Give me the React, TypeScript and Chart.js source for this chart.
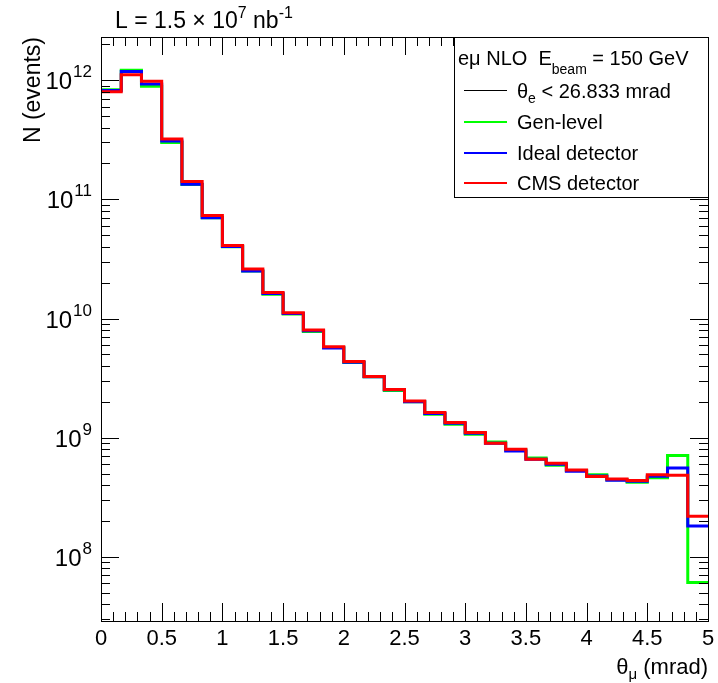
import React, { useEffect, useRef } from 'react';
import { Chart, registerables } from 'chart.js';

Chart.register(...registerables);

// ---- axis definition ----
const X_MIN = 0;
const X_MAX = 5;
const Y_MIN = 2.9e7;
const Y_MAX = 2.3e12;

// ---- histogram contents (30 bins of theta_mu, 0..5 mrad) ----
const genLevel = [
  8.3e11, 1.21e12, 8.9e11, 2.99e11, 1.33e11, 7.0e10, 4.0e10, 2.5e10, 1.6e10, 1.09e10,
  7.8e9, 5.7e9, 4.27e9, 3.25e9, 2.49e9, 2.0e9, 1.57e9, 1.3e9, 1.07e9, 9.2e8,
  7.9e8, 6.77e8, 5.88e8, 5.3e8, 4.88e8, 4.45e8, 4.24e8, 4.62e8, 7.1e8, 6.1e7,
];
const idealDetector = [
  8.2e11, 1.18e12, 9.26e11, 3.08e11, 1.34e11, 7.0e10, 4.02e10, 2.5e10, 1.62e10, 1.1e10,
  7.9e9, 5.66e9, 4.3e9, 3.25e9, 2.52e9, 2.0e9, 1.6e9, 1.32e9, 1.09e9, 9.0e8,
  7.74e8, 6.6e8, 6.0e8, 5.24e8, 4.77e8, 4.4e8, 4.32e8, 4.75e8, 5.58e8, 1.82e8,
];
const cmsDetector = [
  8.0e11, 1.11e12, 9.8e11, 3.2e11, 1.41e11, 7.3e10, 4.09e10, 2.6e10, 1.65e10, 1.12e10,
  8.0e9, 5.8e9, 4.35e9, 3.27e9, 2.54e9, 2.03e9, 1.63e9, 1.34e9, 1.107e9, 9.0e8,
  8.0e8, 6.6e8, 6.1e8, 5.37e8, 4.72e8, 4.51e8, 4.37e8, 4.88e8, 4.85e8, 2.19e8,
];

// ---- tick labels ----
const xTickValues = [0, 0.5, 1, 1.5, 2, 2.5, 3, 3.5, 4, 4.5, 5];
const xTickLabels = ['0', '0.5', '1', '1.5', '2', '2.5', '3', '3.5', '4', '4.5', '5'];
const yDecades = [8, 9, 10, 11, 12];

const FONT = '"Liberation Sans", Arial, Helvetica, sans-serif';

type Seg = { t: string; s: number; dy?: number; dx?: number };

function richWidth(ctx: CanvasRenderingContext2D, segs: Seg[]) {
  let w = 0;
  for (const g of segs) {
    ctx.font = `${g.s}px ${FONT}`;
    w += ctx.measureText(g.t).width + (g.dx || 0);
  }
  return w;
}

function drawRich(
  ctx: CanvasRenderingContext2D,
  segs: Seg[],
  x: number,
  y: number,
  align: 'left' | 'right' | 'center'
) {
  const w = richWidth(ctx, segs);
  let cx = align === 'left' ? x : align === 'right' ? x - w : x - w / 2;
  ctx.textAlign = 'left';
  ctx.textBaseline = 'alphabetic';
  for (const g of segs) {
    ctx.font = `${g.s}px ${FONT}`;
    cx += g.dx || 0;
    ctx.fillText(g.t, cx, y + (g.dy || 0));
    cx += ctx.measureText(g.t).width;
  }
}

function toHist(values: number[]) {
  const w = (X_MAX - X_MIN) / values.length;
  const pts = values.map((v, i) => ({ x: X_MIN + i * w, y: v }));
  pts.push({ x: X_MAX, y: values[values.length - 1] });
  return pts;
}

const rootStyle = {
  id: 'rootStyle',
  afterDraw(chart: any) {
    const ctx: CanvasRenderingContext2D = chart.ctx;
    const { left, right, top, bottom } = chart.chartArea;
    const xs = chart.scales.x;
    const ys = chart.scales.y;
    ctx.save();
    ctx.strokeStyle = '#000';
    ctx.fillStyle = '#000';
    ctx.lineWidth = 1;

    // frame
    ctx.strokeRect(left + 0.5, top + 0.5, right - left, bottom - top);

    // x ticks (bottom and top)
    ctx.beginPath();
    for (let i = 0; i <= 50; i++) {
      const v = X_MIN + (i * (X_MAX - X_MIN)) / 50;
      const px = Math.round(xs.getPixelForValue(v)) + 0.5;
      const len = i % 5 === 0 ? 18 : 9;
      ctx.moveTo(px, bottom);
      ctx.lineTo(px, bottom - len);
      ctx.moveTo(px, top);
      ctx.lineTo(px, top + len);
    }
    // y ticks (left and right)
    for (let d = 7; d <= 12; d++) {
      for (let m = 1; m <= 9; m++) {
        const v = m * Math.pow(10, d);
        if (v < Y_MIN || v > Y_MAX) continue;
        const py = Math.round(ys.getPixelForValue(v)) + 0.5;
        const len = m === 1 ? 18 : 9;
        ctx.moveTo(left, py);
        ctx.lineTo(left + len, py);
        ctx.moveTo(right, py);
        ctx.lineTo(right - len, py);
      }
    }
    ctx.stroke();

    // x tick labels
    xTickValues.forEach((v, i) => {
      const px = xs.getPixelForValue(v);
      drawRich(ctx, [{ t: xTickLabels[i], s: 22 }], px, bottom + 24, 'center');
    });
    // y tick labels
    yDecades.forEach((d) => {
      const py = ys.getPixelForValue(Math.pow(10, d));
      drawRich(
        ctx,
        [
          { t: '10', s: 24 },
          { t: String(d), s: 17, dy: -12, dx: 1 },
        ],
        left - 9,
        py + 9,
        'right'
      );
    });

    // x axis title
    drawRich(
      ctx,
      [
        { t: 'θ', s: 22 },
        { t: 'μ', s: 15, dy: 5 },
        { t: ' (mrad)', s: 22 },
      ],
      right,
      bottom + 53,
      'right'
    );

    // y axis title (rotated)
    ctx.save();
    ctx.translate(40, top);
    ctx.rotate(-Math.PI / 2);
    drawRich(ctx, [{ t: 'N (events)', s: 23 }], 0, 0, 'right');
    ctx.restore();

    // luminosity title
    drawRich(
      ctx,
      [
        { t: 'L = 1.5 × 10', s: 23 },
        { t: '7', s: 16, dy: -10 },
        { t: ' nb', s: 23 },
        { t: '-1', s: 16, dy: -10 },
      ],
      115,
      28,
      'left'
    );

    // legend box
    const lx0 = 454;
    const ly0 = top;
    const lx1 = right;
    const ly1 = 197;
    ctx.fillStyle = '#fff';
    ctx.fillRect(lx0, ly0, lx1 - lx0, ly1 - ly0);
    ctx.strokeStyle = '#000';
    ctx.lineWidth = 1;
    ctx.strokeRect(lx0 + 0.5, ly0 + 0.5, lx1 - lx0, ly1 - ly0);
    ctx.fillStyle = '#000';

    drawRich(
      ctx,
      [
        { t: 'eμ NLO  E', s: 20 },
        { t: 'beam', s: 14, dy: 9 },
        { t: ' = 150 GeV', s: 20 },
      ],
      458,
      65,
      'left'
    );

    const rows: { color: string; width: number; segs: Seg[]; y: number }[] = [
      {
        color: '#000',
        width: 1,
        y: 90.5,
        segs: [
          { t: 'θ', s: 20 },
          { t: 'e', s: 14, dy: 5 },
          { t: ' < 26.833 mrad', s: 20 },
        ],
      },
      { color: '#00ff00', width: 2, y: 122, segs: [{ t: 'Gen-level', s: 20 }] },
      { color: '#0000ff', width: 2, y: 153, segs: [{ t: 'Ideal detector', s: 20 }] },
      { color: '#ff0000', width: 2, y: 183, segs: [{ t: 'CMS detector', s: 20 }] },
    ];
    rows.forEach((r) => {
      ctx.strokeStyle = r.color;
      ctx.lineWidth = r.width;
      ctx.beginPath();
      ctx.moveTo(464, r.y);
      ctx.lineTo(507, r.y);
      ctx.stroke();
      ctx.fillStyle = '#000';
      drawRich(ctx, r.segs, 517, Math.round(r.y) + 7, 'left');
    });

    ctx.restore();
  },
};

export default function App() {
  const canvasRef = useRef<HTMLCanvasElement | null>(null);

  useEffect(() => {
    const canvas = canvasRef.current;
    if (!canvas) return;
    const chart = new Chart(canvas, {
      type: 'line',
      data: {
        datasets: [
          {
            label: 'CMS detector',
            data: toHist(cmsDetector),
            borderColor: '#ff0000',
            borderWidth: 3,
            pointRadius: 0,
            stepped: 'before',
            fill: false,
            order: 1,
          },
          {
            label: 'Ideal detector',
            data: toHist(idealDetector),
            borderColor: '#0000ff',
            borderWidth: 3,
            pointRadius: 0,
            stepped: 'before',
            fill: false,
            order: 2,
          },
          {
            label: 'Gen-level',
            data: toHist(genLevel),
            borderColor: '#00ff00',
            borderWidth: 3,
            pointRadius: 0,
            stepped: 'before',
            fill: false,
            order: 3,
          },
        ],
      },
      options: {
        animation: false,
        responsive: false,
        devicePixelRatio: 1,
        layout: { padding: { left: 101, top: 37, right: 10, bottom: 62 } },
        scales: {
          x: { type: 'linear', min: X_MIN, max: X_MAX, display: false },
          y: { type: 'logarithmic', min: Y_MIN, max: Y_MAX, display: false },
        },
        plugins: {
          legend: { display: false },
          title: { display: false },
          tooltip: { enabled: false },
        },
        events: [],
      },
      plugins: [rootStyle],
    } as any);
    return () => chart.destroy();
  }, []);

  return (
    <div style={{ position: 'fixed', left: 0, top: 0, width: 718, height: 683, background: '#fff' }}>
      <canvas ref={canvasRef} width={718} height={683} style={{ display: 'block' }} />
    </div>
  );
}
